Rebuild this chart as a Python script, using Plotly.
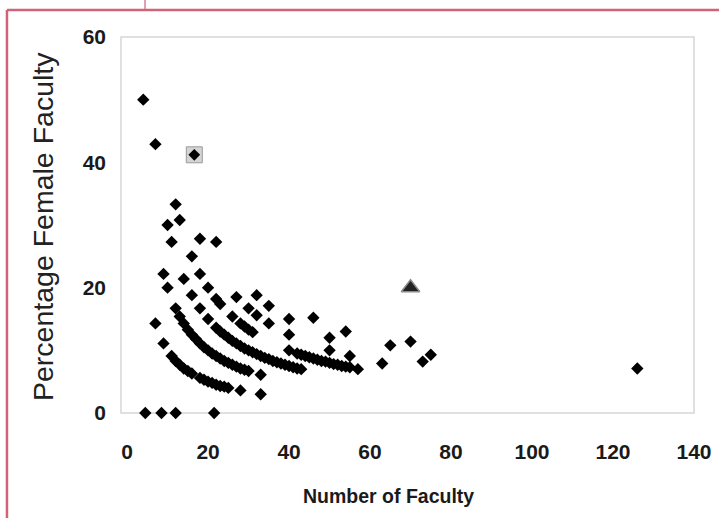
import plotly.graph_objects as go

# ---- data (number of faculty, % female) ----
# isolated departments
iso_n = [4, 7, 12, 13, 10, 11, 18, 22, 16, 9, 18, 14, 10, 20, 22, 27, 32, 35, 23, 26,
         30, 32, 35, 28, 29, 30, 31, 7, 9, 40, 46, 40, 40, 50, 54, 50, 55, 57, 63, 65,
         70, 73, 75, 126, 33, 33, 28]
iso_pct = [50.0, 42.9, 33.3, 30.8, 30.0, 27.3, 27.8, 27.3, 25.0, 22.2, 22.2, 21.4, 20.0, 20.0,
           18.2, 18.5, 18.8, 17.1, 17.4, 15.4, 16.7, 15.6, 14.3, 14.3, 13.8, 13.3, 12.9, 14.3,
           11.1, 15.0, 15.2, 12.5, 10.0, 12.0, 13.0, 10.0, 9.1, 7.0, 7.9, 10.8, 11.4, 8.2, 9.3,
           7.1, 6.1, 3.0, 3.6]

# lowest band (one woman)
band1_n = [11, 12, 13, 14, 15, 16, 18, 19, 20, 21, 22, 23, 24, 25]
band1_pct = [9.1, 8.3, 7.7, 7.1, 6.7, 6.3, 5.6, 5.3, 5.0, 4.8, 4.5, 4.3, 4.2, 4.0]

# second band (two women)
band2_n = [12, 13, 14, 15, 16, 17, 18, 19, 20, 21, 22, 23, 24, 25, 26, 27, 28, 29, 30]
band2_pct = [16.7, 15.4, 14.3, 13.3, 12.5, 11.8, 11.1, 10.5, 10.0, 9.5, 9.1, 8.7, 8.3, 8.0,
             7.7, 7.4, 7.1, 6.9, 6.7]

# third band (three women)
band3_n = [16, 18, 20, 22, 23, 24, 25, 26, 27, 28, 29, 30, 31, 32, 33, 34, 35, 36, 37, 38,
           39, 40, 41, 42, 43]
band3_pct = [18.8, 16.7, 15.0, 13.6, 13.0, 12.5, 12.0, 11.5, 11.1, 10.7, 10.3, 10.0, 9.7, 9.4,
             9.1, 8.8, 8.6, 8.3, 8.1, 7.9, 7.7, 7.5, 7.3, 7.1, 7.0]

# fourth band (four women), long tail
band4_n = [42, 43, 44, 45, 46, 47, 48, 49, 50, 51, 52, 53, 54, 55]
band4_pct = [9.5, 9.3, 9.1, 8.9, 8.7, 8.5, 8.3, 8.2, 8.0, 7.8, 7.7, 7.5, 7.4, 7.3]

# departments with no women
zero_n = [4.5, 8.5, 12, 21.5]
zero_pct = [0, 0, 0, 0]

# highlighted departments
square_n = [16.6]
square_pct = [41.2]
triangle_n = [70]
triangle_pct = [20]

x_ticks = [0, 20, 40, 60, 80, 100, 120, 140]
y_ticks = [0, 20, 40, 60]

all_n = iso_n + band1_n + band2_n + band3_n + band4_n + zero_n
all_pct = iso_pct + band1_pct + band2_pct + band3_pct + band4_pct + zero_pct

fig = go.Figure()
fig.add_trace(go.Scatter(
    x=all_n, y=all_pct, mode="markers", cliponaxis=False,
    marker=dict(symbol="diamond", size=9.5, color="#000000"),
    showlegend=False, hoverinfo="x+y"))
fig.add_trace(go.Scatter(
    x=square_n, y=square_pct, mode="markers", cliponaxis=False,
    marker=dict(symbol="square", size=16, color="#d4d4d4",
                line=dict(color="#9a9a9a", width=1)),
    showlegend=False))
fig.add_trace(go.Scatter(
    x=square_n, y=square_pct, mode="markers", cliponaxis=False,
    marker=dict(symbol="diamond", size=9, color="#000000"),
    showlegend=False))
fig.add_trace(go.Scatter(
    x=triangle_n, y=triangle_pct, mode="markers", cliponaxis=False,
    marker=dict(symbol="triangle-up", size=16, color="#222222",
                line=dict(color="#8a8a8a", width=1.5)),
    showlegend=False))

tick_font = dict(family="Liberation Sans, Arial", size=21,
                 color="#1a1a1a", weight="bold")

fig.update_layout(
    width=719, height=518,
    margin=dict(l=121, r=25, t=37, b=105, autoexpand=False),
    paper_bgcolor="#ffffff", plot_bgcolor="#ffffff",
    xaxis=dict(range=[-1.5, 140], tickvals=x_ticks, ticktext=[str(v) for v in x_ticks],
               showgrid=False, zeroline=False, showline=False, ticks="", automargin=False,
               tickfont=tick_font, ticklabelstandoff=24),
    yaxis=dict(range=[0, 60], tickvals=y_ticks, ticktext=[str(v) for v in y_ticks],
               showgrid=False, zeroline=False, showline=False, ticks="", automargin=False,
               tickfont=tick_font, ticklabelstandoff=14),
    shapes=[
        # plot-area border
        dict(type="rect", xref="paper", yref="paper", x0=0, x1=1, y0=0, y1=1,
             line=dict(color="#d6d6d6", width=1.5), layer="below"),
        # pink frame lines
        dict(type="line", xref="paper", yref="paper", x0=-0.199, x1=-0.199,
             y0=1.0718, y1=-0.30, line=dict(color="#d06379", width=2.5)),
        dict(type="line", xref="paper", yref="paper", x0=-0.199, x1=1.06,
             y0=1.0718, y1=1.0718, line=dict(color="#d06379", width=2.5)),
        dict(type="line", xref="paper", yref="paper", x0=0.0419, x1=0.0419,
             y0=1.0718, y1=1.11, line=dict(color="#d06379", width=1.2)),
    ],
    annotations=[
        dict(text="Number of Faculty", xref="paper", yref="paper",
             x=(388 - 121) / 573, y=(413 - 496) / 376, xanchor="center", yanchor="middle",
             showarrow=False,
             font=dict(family="Liberation Sans, Arial", size=19.5,
                       color="#1a1a1a", weight="bold")),
        dict(text="Percentage Female Faculty", xref="paper", yref="paper",
             x=(43 - 121) / 573, y=(413 - 227) / 376, xanchor="center", yanchor="middle",
             textangle=-90, showarrow=False,
             font=dict(family="Liberation Sans, Arial", size=28.5, color="#222222")),
    ],
)

# remove the page's default body margin so the figure sits at the window's corner
fig.write_html("out.html",
               config={"displayModeBar": False},
               post_script="document.body.style.margin='0';document.body.style.overflow='hidden';")
